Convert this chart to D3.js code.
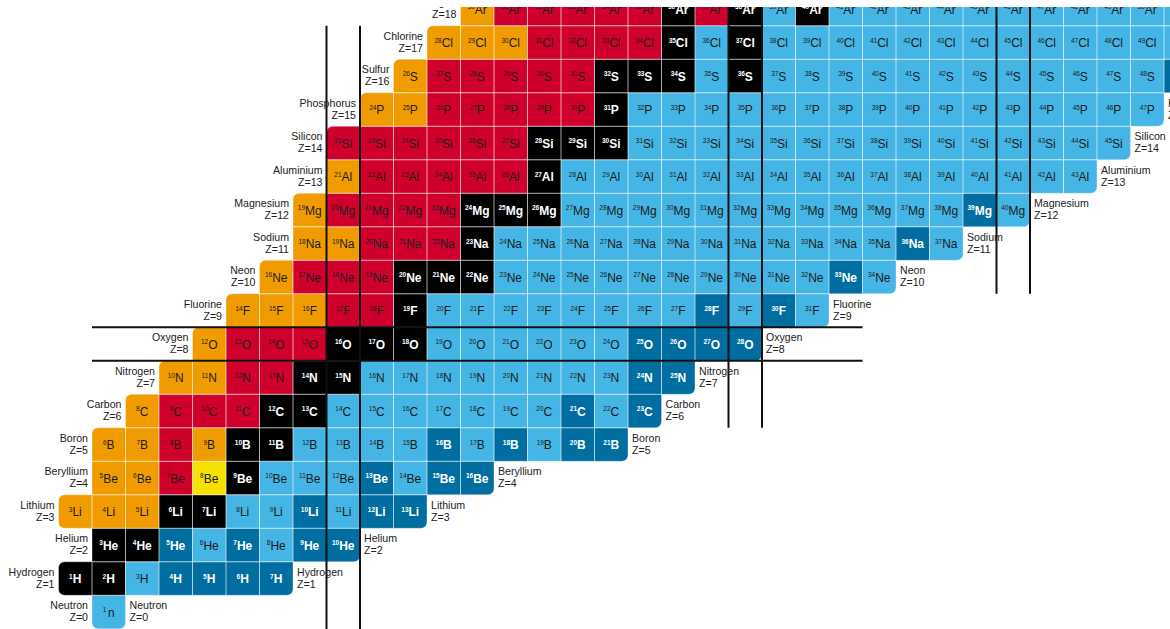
<!DOCTYPE html>
<html>
<head>
<meta charset="utf-8">
<script src="https://cdn.jsdelivr.net/npm/d3@7"></script>
<style>
  html, body { margin: 0; padding: 0; background: #fff; }
  svg { display: block; }
</style>
</head>
<body>
<svg id="chart" width="1170" height="629"></svg>
<script>
// ---------- DATA ----------
const symbols = ["n","H","He","Li","Be","B","C","N","O","F","Ne","Na","Mg","Al","Si","P","S","Cl","Ar"];
const elementNames = ["Neutron","Hydrogen","Helium","Lithium","Beryllium","Boron","Carbon","Nitrogen","Oxygen",
  "Fluorine","Neon","Sodium","Magnesium","Aluminium","Silicon","Phosphorus","Sulfur","Chlorine","Argon"];
// first neutron number shown in each row (Z = index)
const firstNeutron = [1,0,1,0,1,1,2,3,4,5,6,7,7,8,8,9,10,11,12];
// decay mode of each nuclide along the row:
// p = proton unbound, r = beta+ / EC, s = stable, b = beta-, n = neutron unbound, a = alpha
const decayModes = [
  "b",
  "ssbnnnn",
  "ssnbnbnn",
  "pppssbbnbnn",
  "pprasbbbnbnn",
  "pprpssbbbbnbnbnn",
  "prrrssbbbbbbbnbn",
  "pprrssbbbbbbbbnn",
  "prrrsssbbbbbbnnnn",
  "ppprrsbbbbbbbbnbnb",
  "prrrsssbbbbbbbbbbnb",
  "pprrrsbbbbbbbbbbbbnb",
  "prrrrsssbbbbbbbbbbbbnb",
  "prrrrrsbbbbbbbbbbbbbbbb",
  "rrrrrrsssbbbbbbbbbbbbbbb",
  "pprrrrrsbbbbbbbbbbbbbbbb",
  "prrrrrsssbsbbbbbbbbbbbbn",
  "ppprrrrsbsbbbbbbbbbbbbbb",
  "prrrrrsrsbsbbbbbbbbbbbbb"
];
// magic-number guide lines (neutron columns and proton rows), in N/Z units
const magicN = [8, 20, 28];
const magicNRowFrom = [-1, 6, 10];
const magicNRowTo = [17, 22, 26];
const magicZ = [8];
const magicZColFrom = [1];
const magicZColTo = [23];

// ---------- STYLE ----------
const modeColor = { p: "#f09c00", r: "#d0002c", s: "#000000", b: "#45b5e5", n: "#006ea0", a: "#f5e000" };
const darkModes = new Set(["s", "n"]);

// ---------- BUILD ----------
const nuclides = [];
decayModes.forEach((row, z) => {
  row.split("").forEach((m, i) => {
    const n = firstNeutron[z] + i;
    nuclides.push({ z, n, a: z + n, sym: symbols[z], mode: m });
  });
});
const has = new Set(nuclides.map(d => d.z + "," + d.n));
const exists = (n, z) => has.has(z + "," + n);

const svg = d3.select("#chart");
const W = 1170, H = 629;
const pitch = 33.5;
const x = d3.scaleLinear().domain([0, 1]).range([58.5, 58.5 + pitch]);   // left edge of column N
const y = d3.scaleLinear().domain([0, 1]).range([595.3, 595.3 - pitch]);  // top edge of row Z

svg.append("defs").append("clipPath").attr("id", "clip")
  .append("rect").attr("x", 0).attr("y", 7).attr("width", W).attr("height", H - 7);
const g = svg.append("g").attr("clip-path", "url(#clip)");

const R = 6;
function cellPath(d) {
  const x0 = x(d.n), y0 = y(d.z), x1 = x0 + pitch, y1 = y0 + pitch;
  const up = exists(d.n, d.z + 1), down = exists(d.n, d.z - 1);
  const left = exists(d.n - 1, d.z), right = exists(d.n + 1, d.z);
  const tl = (!up && !left) ? R : 0, tr = (!up && !right) ? R : 0;
  const br = (!down && !right) ? R : 0, bl = (!down && !left) ? R : 0;
  return `M${x0 + tl},${y0} L${x1 - tr},${y0} ` +
    (tr ? `A${tr},${tr} 0 0 1 ${x1},${y0 + tr} ` : "") +
    `L${x1},${y1 - br} ` +
    (br ? `A${br},${br} 0 0 1 ${x1 - br},${y1} ` : "") +
    `L${x0 + bl},${y1} ` +
    (bl ? `A${bl},${bl} 0 0 1 ${x0},${y1 - bl} ` : "") +
    `L${x0},${y0 + tl} ` +
    (tl ? `A${tl},${tl} 0 0 1 ${x0 + tl},${y0} ` : "") + "Z";
}

// fills
g.append("g").selectAll("path").data(nuclides).join("path")
  .attr("d", cellPath)
  .attr("fill", d => modeColor[d.mode]);
// thin light separators
g.append("g").selectAll("path").data(nuclides).join("path")
  .attr("d", cellPath)
  .attr("fill", "none")
  .attr("stroke", "#ffffff")
  .attr("stroke-opacity", 0.35)
  .attr("stroke-width", 1);

// cell texts
const txt = g.append("g").attr("font-family", "'Liberation Sans', Arial, Helvetica, sans-serif")
  .selectAll("text").data(nuclides).join("text")
  .attr("x", d => x(d.n) + pitch / 2)
  .attr("y", d => y(d.z) + pitch / 2 + 4.5)
  .attr("text-anchor", "middle")
  .attr("fill", d => darkModes.has(d.mode) ? "#ffffff" : "#1c1c1c")
  .attr("font-weight", d => darkModes.has(d.mode) ? "bold" : "normal");
txt.append("tspan").attr("font-size", 6.5).attr("dy", -4.5).text(d => d.sym === "n" ? d.a + " " : d.a);
txt.append("tspan").attr("font-size", 12).attr("dy", 4.5).text(d => d.sym);

// magic lines
const lines = g.append("g").attr("stroke", "#111").attr("stroke-width", 2);
magicN.forEach((n, i) => {
  [n, n + 1].forEach(c => {
    lines.append("line")
      .attr("x1", x(c)).attr("x2", x(c))
      .attr("y1", y(magicNRowTo[i])).attr("y2", y(magicNRowFrom[i]) + pitch);
  });
});
magicZ.forEach((z, i) => {
  [z, z + 1].forEach(r => {
    lines.append("line")
      .attr("y1", y(r) + pitch).attr("y2", y(r) + pitch)
      .attr("x1", x(magicZColFrom[i])).attr("x2", x(magicZColTo[i] + 1));
  });
});

// row labels on both ends
const rows = decayModes.map((row, z) => ({ z, first: firstNeutron[z], last: firstNeutron[z] + row.length - 1 }));
const lab = g.append("g").attr("font-family", "'Liberation Sans', Arial, Helvetica, sans-serif")
  .attr("font-size", 10.6).attr("fill", "#222");
function addLabel(d, xpos, anchor) {
  const cy = y(d.z) + pitch / 2;
  const t = lab.append("text").attr("text-anchor", anchor);
  t.append("tspan").attr("x", xpos).attr("y", cy - 3).text(elementNames[d.z]);
  t.append("tspan").attr("x", xpos).attr("y", cy + 9).text("Z=" + d.z);
}
rows.forEach(d => {
  addLabel(d, x(d.first) - 4, "end");
  addLabel(d, x(d.last + 1) + 4, "start");
});
</script>
</body>
</html>
